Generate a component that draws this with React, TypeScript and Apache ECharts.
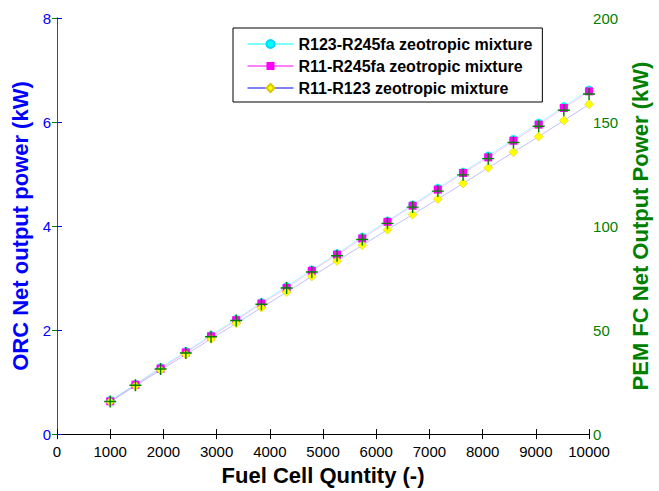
import React, { useEffect, useRef } from "react";
import * as echarts from "echarts";

const fuelCellQuantity = [1000, 1474, 1947, 2421, 2895, 3368, 3842, 4316, 4789, 5263, 5737, 6211, 6684, 7158, 7632, 8105, 8579, 9053, 9526, 10000];
const r123R245fa = [0.65, 0.96, 1.28, 1.59, 1.90, 2.21, 2.53, 2.84, 3.16, 3.47, 3.79, 4.10, 4.41, 4.73, 5.04, 5.35, 5.67, 5.98, 6.30, 6.62];
const r11R245fa = [0.63, 0.95, 1.26, 1.57, 1.88, 2.19, 2.51, 2.81, 3.14, 3.45, 3.76, 4.08, 4.39, 4.70, 5.02, 5.32, 5.64, 5.95, 6.27, 6.59];
const r11R123 = [0.62, 0.93, 1.23, 1.53, 1.83, 2.13, 2.43, 2.73, 3.03, 3.33, 3.63, 3.93, 4.22, 4.52, 4.82, 5.12, 5.42, 5.72, 6.03, 6.34];
const pemFcPower = [15.7, 23.5, 31.3, 39.0, 46.8, 54.6, 62.4, 70.2, 77.9, 85.7, 93.5, 101.3, 109.1, 116.8, 124.6, 132.4, 140.2, 148.0, 155.7, 163.5];
const seriesNames = ["R123-R245fa zeotropic mixture", "R11-R245fa zeotropic mixture", "R11-R123 zeotropic mixture"];

const pair = (ys: number[]) => fuelCellQuantity.map((x, i) => [x, ys[i]]);
const FONT = "Liberation Sans, Arial, sans-serif";
const plain = (v: number) => String(v);

export default function App() {
  const ref = useRef<HTMLDivElement>(null);
  useEffect(() => {
    if (!ref.current) return;
    const chart = echarts.init(ref.current, undefined, { renderer: "svg" });
    chart.setOption({
      animation: false,
      backgroundColor: "#ffffff",
      textStyle: { fontFamily: FONT },
      grid: { left: 57, right: 67, top: 18, bottom: 52 },
      legend: {
        orient: "vertical",
        left: 233,
        top: 28,
        padding: [8, 10, 6, 14],
        itemGap: 6,
        itemWidth: 46,
        itemHeight: 10,
        backgroundColor: "#ffffff",
        borderColor: "#000000",
        borderWidth: 1,
        borderRadius: 0,
        textStyle: { fontFamily: FONT, fontSize: 16, fontWeight: "bold", color: "#000" },
        data: [
          { name: seriesNames[0], lineStyle: { color: "#00ffff", opacity: 1, width: 1 } },
          { name: seriesNames[1], lineStyle: { color: "#ff00ff", opacity: 1, width: 1 } },
          { name: seriesNames[2], lineStyle: { color: "#0000ff", opacity: 1, width: 1 } },
        ],
      },
      xAxis: [
        {
          type: "value",
          min: 0,
          max: 10000,
          interval: 1000,
          name: "Fuel Cell Quntity (-)",
          nameLocation: "middle",
          nameGap: 29,
          nameTextStyle: { fontFamily: FONT, fontSize: 22, fontWeight: "bold", color: "#000" },
          axisLine: { show: true, lineStyle: { color: "#000", width: 1 } },
          axisTick: { show: true, inside: true, length: 5, lineStyle: { color: "#000" } },
          axisLabel: { fontFamily: FONT, fontSize: 15, color: "#000", margin: 10, formatter: plain },
          splitLine: { show: false },
        },
        {
          type: "value",
          position: "top",
          min: 0,
          max: 10000,
          interval: 1000,
          axisLine: { show: true, lineStyle: { color: "#000", width: 1 } },
          axisTick: { show: true, inside: true, length: 5, lineStyle: { color: "#000" } },
          axisLabel: { show: false },
          splitLine: { show: false },
        },
      ],
      yAxis: [
        {
          type: "value",
          min: 0,
          max: 8,
          interval: 2,
          name: "ORC Net output power (kW)",
          nameLocation: "middle",
          nameGap: 24,
          nameTextStyle: { fontFamily: FONT, fontSize: 22, fontWeight: "bold", color: "#0000ff" },
          axisLine: { show: true, lineStyle: { color: "#0000ff", width: 1 } },
          axisTick: { show: true, inside: true, length: 5, lineStyle: { color: "#0000ff" } },
          axisLabel: { fontFamily: FONT, fontSize: 15, color: "#0000ff", margin: 6, formatter: plain },
          splitLine: { show: false },
        },
        {
          type: "value",
          min: 0,
          max: 200,
          interval: 50,
          position: "right",
          name: "PEM FC Net Output Power (kW)",
          nameLocation: "middle",
          nameGap: 37,
          nameRotate: 90,
          nameTextStyle: { fontFamily: FONT, fontSize: 22, fontWeight: "bold", color: "#008000" },
          axisLine: { show: true, lineStyle: { color: "#008000", width: 1 } },
          axisTick: { show: true, inside: true, length: 5, lineStyle: { color: "#008000" } },
          axisLabel: { fontFamily: FONT, fontSize: 15, color: "#008000", margin: 4, formatter: plain },
          splitLine: { show: false },
        },
      ],
      series: [
        {
          name: seriesNames[0],
          type: "line",
          data: pair(r123R245fa),
          symbol: "circle",
          symbolSize: 8,
          itemStyle: { color: "#00ffff", borderColor: "#00d8ff", borderWidth: 0.5 },
          lineStyle: { color: "#00ffff", width: 1, opacity: 0.35 },
          z: 2,
        },
        {
          name: seriesNames[1],
          type: "line",
          data: pair(r11R245fa),
          symbol: "rect",
          symbolSize: 8,
          itemStyle: { color: "#ff00ff" },
          lineStyle: { color: "#ff00ff", width: 1, opacity: 0.25 },
          z: 3,
        },
        {
          name: seriesNames[2],
          type: "line",
          data: pair(r11R123),
          symbol: "diamond",
          symbolSize: 9,
          itemStyle: { color: "#ffff00", borderColor: "#d8c800", borderWidth: 0.5 },
          lineStyle: { color: "#0000ff", width: 1, opacity: 0.25 },
          z: 4,
        },
        {
          name: "PEM FC Net Output Power",
          type: "line",
          yAxisIndex: 1,
          data: pair(pemFcPower),
          symbol: "path://M4.4,0H5.6V4.4H10V5.6H5.6V10H4.4V5.6H0V4.4H4.4Z",
          symbolSize: 12,
          itemStyle: { color: "#008000" },
          lineStyle: { width: 0, opacity: 0 },
          z: 5,
        },
      ],
    });
    return () => chart.dispose();
  }, []);
  return <div ref={ref} style={{ position: "absolute", left: 0, top: 0, width: 659, height: 491 }} />;
}
